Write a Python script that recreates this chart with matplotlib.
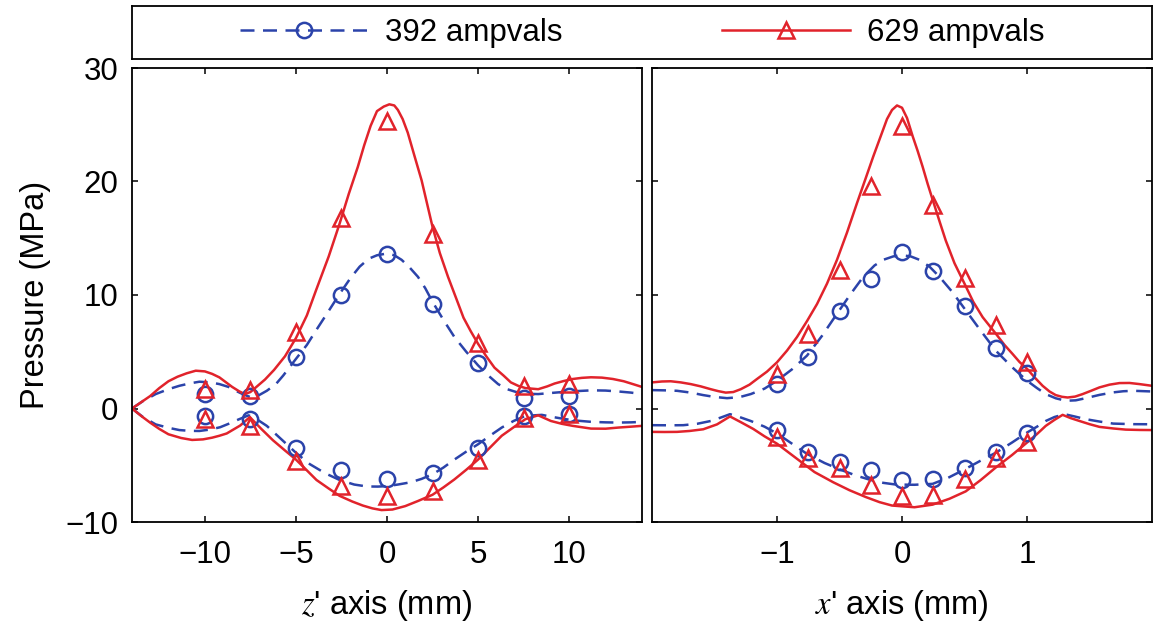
import matplotlib
matplotlib.use("Agg")
import matplotlib.pyplot as plt
from matplotlib.lines import Line2D

plt.rcParams["font.family"] = ["Liberation Sans", "DejaVu Sans"]
plt.rcParams["mathtext.fontset"] = "stix"

# ---- measured samples (z' scan) ----
z_pts = [-10, -7.5, -5, -2.5, 0, 2.5, 5, 7.5, 10]
z392_pos = [1.3, 1.1, 4.5, 10.0, 13.6, 9.2, 4.0, 0.9, 1.1]
z392_neg = [-0.7, -0.9, -3.5, -5.4, -6.25, -5.7, -3.45, -0.65, -0.5]
z629_pos = [1.7, 1.65, 6.7, 16.8, 25.3, 15.4, 5.75, 2.0, 2.2]
z629_neg = [-0.95, -1.5, -4.6, -6.8, -7.7, -7.3, -4.5, -0.85, -0.45]

# ---- simulated envelopes (z' scan) ----
z629_up_x = [-14, -13.5, -13, -12.5, -12, -11.5, -11, -10.5, -10, -9.6, -9.2, -8.5, -8.1,
             -7.8, -7.5, -7.2, -6.7, -6.2, -5.6, -5, -4.4, -3.9, -3.2, -2.6, -2.1, -1.6,
             -1.25, -0.9, -0.55, -0.18, 0.13, 0.4, 0.6, 0.86, 1.14, 1.5, 1.9, 2.5, 2.9,
             3.35, 3.8, 4.2, 4.6, 5, 5.45, 5.9, 6.4, 6.8, 7.2, 7.6, 8.3, 8.8, 9.2, 9.7,
             10.2, 10.7, 11.2, 11.8, 12.4, 13, 13.5, 14]
z629_up_y = [0, 0.55, 1.1, 1.8, 2.4, 2.8, 3.1, 3.33, 3.27, 3.05, 2.74, 1.9, 1.5,
             1.27, 1.45, 1.86, 2.55, 3.4, 4.6, 6.2, 8.2, 10.4, 13.4, 16.3, 18.9, 21.3,
             23.2, 24.9, 26.2, 26.6, 26.8, 26.7, 26.3, 25.5, 24.3, 22.3, 20.1, 16.0, 13.7,
             11.6, 9.7, 8.0, 6.8, 5.7, 4.6, 3.6, 2.9, 2.3, 2.0, 1.8, 1.7, 1.95, 2.2, 2.42,
             2.6, 2.7, 2.75, 2.72, 2.6, 2.4, 2.15, 1.9]
z629_lo_x = [-14, -13.5, -13, -12.5, -12, -11.3, -10.7, -10.1, -9.6, -9.2, -8.8, -8.06,
             -7.53, -6.9, -6.26, -5.6, -5.0, -4.4, -3.87, -3.2, -2.6, -1.9, -1.33, -0.8,
             -0.3, 0.3, 1.0, 1.7, 2.5, 3.1, 3.7, 4.35, 5.0, 5.65, 6.3, 7.0, 7.6, 8.3,
             9.0, 9.6, 10.2, 11.2, 12.0, 12.7, 13.4, 14]
z629_lo_y = [0, -0.65, -1.25, -1.8, -2.27, -2.6, -2.77, -2.72, -2.57, -2.4, -2.2, -1.5,
             -0.76, -1.8, -2.8, -3.7, -4.5, -5.45, -6.3, -7.05, -7.7, -8.2, -8.55, -8.8,
             -8.95, -8.9, -8.6, -8.15, -7.6, -6.95, -6.25, -5.4, -4.5, -3.45, -2.4, -1.6,
             -0.94, -0.6, -1.1, -1.35, -1.53, -1.77, -1.78, -1.68, -1.6, -1.53]
z392_up_x = [-14, -13.4, -12.7, -12, -11.4, -10.8, -10.3, -9.7, -9.2, -8.7, -8.3, -7.9,
             -7.45, -7.0, -6.6, -6.1, -5.7, -5.0, -4.4, -3.9, -3.2, -2.6, -2.0, -1.5,
             -1.0, -0.55, 0, 0.4, 0.8, 1.2, 1.7, 2.1, 2.5, 3.1, 3.7, 4.35, 5.0, 5.6, 6.1,
             6.6, 7.2, 7.7, 8.3, 9.1, 10.0, 11.25, 12.0, 12.7, 13.4, 14]
z392_up_y = [0, 0.65, 1.27, 1.7, 2.0, 2.22, 2.36, 2.3, 2.15, 1.9, 1.56, 1.25,
             0.97, 1.2, 1.56, 2.15, 2.9, 4.37, 5.6, 6.87, 8.6, 10.1, 11.5, 12.5,
             13.2, 13.5, 13.66, 13.5, 13.1, 12.5, 11.6, 10.6, 9.4, 7.8, 6.3, 5.0, 3.8, 2.85, 2.15,
             1.7, 1.4, 1.3, 1.27, 1.38, 1.5, 1.6, 1.58, 1.5, 1.4, 1.27]
z392_lo_x = [-14, -13.4, -12.7, -12, -11.4, -10.8, -10.3, -9.7, -9.16, -8.7, -8.2, -7.6,
             -7.1, -6.6, -5.7, -5.0, -4.24, -3.4, -2.6, -1.8, -1.1, -0.5, 0, 0.6, 1.3,
             1.9, 2.5, 3.1, 3.7, 4.35, 5.0, 5.65, 6.3, 6.95, 7.6, 8.5, 9.1, 9.8, 10.5,
             11.25, 12.0, 12.7, 13.4, 14]
z392_lo_y = [0, -0.75, -1.4, -1.7, -1.9, -1.97, -1.98, -1.85, -1.65, -1.35, -1.0, -0.6,
             -1.0, -1.53, -2.86, -3.9, -4.9, -5.7, -6.3, -6.7, -6.87, -6.88, -6.84, -6.7, -6.5,
             -6.2, -5.8, -5.2, -4.5, -3.8, -3.15, -2.4, -1.68, -1.1, -0.65, -0.56, -0.75, -0.94, -1.08,
             -1.18, -1.22, -1.24, -1.22, -1.18]

# ---- measured samples (x' scan) ----
x_pts = [-1, -0.75, -0.5, -0.25, 0, 0.25, 0.5, 0.75, 1]
x392_pos = [2.2, 4.5, 8.6, 11.4, 13.8, 12.1, 9.0, 5.3, 3.1]
x392_neg = [-1.9, -3.8, -4.7, -5.46, -6.34, -6.2, -5.28, -3.8, -2.18]
x629_pos = [3.0, 6.6, 12.2, 19.6, 24.9, 17.9, 11.5, 7.4, 4.1]
x629_neg = [-2.55, -4.34, -5.2, -6.7, -7.7, -7.64, -6.17, -4.4, -2.95]

# ---- simulated envelopes (x' scan) ----
x629_up_x = [-2, -1.92, -1.85, -1.77, -1.69, -1.61, -1.53, -1.47, -1.41, -1.35, -1.29,
             -1.22, -1.16, -1.08, -1.0, -0.92, -0.84, -0.76, -0.68, -0.6, -0.52, -0.44,
             -0.36, -0.29, -0.23, -0.17, -0.12, -0.08, -0.04, 0, 0.04, 0.085, 0.125,
             0.165, 0.205, 0.245, 0.3, 0.35, 0.42, 0.5, 0.57, 0.645, 0.75, 0.82, 0.885,
             0.94, 1.0, 1.06, 1.125, 1.18, 1.23, 1.28, 1.325, 1.385, 1.445, 1.51, 1.58,
             1.66, 1.74, 1.82, 1.9, 2.0]
x629_up_y = [2.3, 2.38, 2.4, 2.3, 2.15, 1.95, 1.7, 1.53, 1.4, 1.45, 1.7,
             2.1, 2.6, 3.25, 4.07, 5.1, 6.3, 7.7, 9.2, 11.0, 13.1, 15.5,
             18.1, 20.3, 22.2, 24.0, 25.5, 26.3, 26.7, 26.5, 25.6, 24.0, 22.7,
             21.3, 19.8, 18.4, 16.5, 14.8, 12.8, 11.0, 9.4, 8.05, 6.6, 5.6, 4.8,
             4.1, 3.5, 2.75, 2.0, 1.5, 1.18, 1.03, 0.97, 1.05, 1.27, 1.55, 1.86,
             2.1, 2.24, 2.25, 2.15, 2.0]
x629_lo_x = [-2, -1.9, -1.8, -1.7, -1.59, -1.48, -1.376, -1.29, -1.19, -1.1, -1.0, -0.91,
             -0.82, -0.7, -0.55, -0.42, -0.29, -0.18, -0.08, 0.1, 0.245, 0.38, 0.51, 0.63,
             0.75, 0.88, 1.0, 1.08, 1.15, 1.22, 1.285, 1.35, 1.42, 1.5, 1.58, 1.69,
             1.79, 1.9, 2.0]
x629_lo_y = [-2.06, -2.07, -2.06, -1.98, -1.83, -1.4, -0.7, -1.2, -1.8, -2.45, -3.1, -3.85,
             -4.6, -5.6, -6.5, -7.2, -7.8, -8.25, -8.55, -8.7, -8.47, -7.95, -7.3, -6.3,
             -5.2, -4.1, -3.0, -2.25, -1.53, -1.0, -0.56, -0.85, -1.1, -1.38, -1.62, -1.76,
             -1.86, -1.89, -1.9]
x392_up_x = [-2, -1.9, -1.8, -1.69, -1.59, -1.5, -1.4, -1.3, -1.21, -1.1, -1.0, -0.88,
             -0.76, -0.64, -0.52, -0.41, -0.31, -0.22, -0.15, -0.07, 0, 0.07, 0.14, 0.22,
             0.3, 0.4, 0.5, 0.62, 0.75, 0.88, 1.0, 1.08, 1.15, 1.23, 1.31, 1.39, 1.47,
             1.58, 1.69, 1.77, 1.85, 2.0]
x392_up_y = [1.62, 1.6, 1.56, 1.4, 1.18, 1.02, 0.91, 1.0, 1.27, 1.75, 2.45, 3.45,
             4.66, 6.4, 8.35, 10.1, 11.6, 12.6, 13.1, 13.4, 13.5, 13.4, 13.1, 12.5,
             11.6, 10.3, 8.8, 7.0, 5.1, 3.65, 2.45, 1.8, 1.27, 0.9, 0.68, 0.72, 0.91,
             1.2, 1.42, 1.52, 1.56, 1.5]
x392_lo_x = [-2, -1.85, -1.75, -1.64, -1.53, -1.45, -1.376, -1.3, -1.21, -1.1, -1.0, -0.88,
             -0.76, -0.62, -0.49, -0.37, -0.25, -0.15, -0.05, 0.1, 0.245, 0.37, 0.5, 0.62,
             0.75, 0.88, 1.0, 1.08, 1.15, 1.22, 1.3, 1.38, 1.47, 1.58, 1.69, 1.85, 2.0]
x392_lo_y = [-1.47, -1.48, -1.47, -1.35, -1.1, -0.8, -0.5, -0.75, -1.1, -1.6, -2.2, -3.1,
             -4.0, -4.8, -5.4, -5.9, -6.3, -6.55, -6.7, -6.72, -6.64, -6.1, -5.37, -4.65,
             -3.9, -3.0, -2.12, -1.6, -1.1, -0.75, -0.5, -0.7, -0.94, -1.15, -1.33, -1.38,
             -1.39]

series_labels = ["392 ampvals", "629 ampvals"]
y_ticks = [-10, 0, 10, 20, 30]
z_ticks = [-10, -5, 0, 5, 10]
x_ticks = [-1, 0, 1]

BLUE = "#2b43aa"
RED = "#e1232b"
FS = 22.5
LFS = 23.5
DASH = (5.6, 3.4)
LW = 1.8

W, H = 1155, 622
fig = plt.figure(figsize=(W / 100, H / 100), dpi=100)
fig.patch.set_facecolor("white")


def fax(l, t, r, b):
    return fig.add_axes([l / W, 1 - b / H, (r - l) / W, (b - t) / H])


ax1 = fax(132, 68, 642, 522)
ax2 = fax(652, 68, 1152, 522)

blue_mk = dict(ls="none", marker="o", ms=11, mfc="none", mec=BLUE, mew=1.8)
red_mk = dict(ls="none", marker="^", ms=12, mfc="none", mec=RED, mew=1.8)


def draw(ax, r_up, r_lo, b_up, b_lo, pts, b_pos, b_neg, r_pos, r_neg):
    for xs, ys in (b_up, b_lo):
        ax.plot(xs, ys, color=BLUE, dashes=DASH, lw=LW, solid_joinstyle="round",
                dash_joinstyle="round")
    for xs, ys in (r_up, r_lo):
        ax.plot(xs, ys, color=RED, lw=LW, solid_joinstyle="round")
    ax.plot(pts, b_pos, **blue_mk)
    ax.plot(pts, b_neg, **blue_mk)
    ax.plot(pts, r_pos, **red_mk)
    ax.plot(pts, r_neg, **red_mk)


draw(ax1, (z629_up_x, z629_up_y), (z629_lo_x, z629_lo_y),
     (z392_up_x, z392_up_y), (z392_lo_x, z392_lo_y),
     z_pts, z392_pos, z392_neg, z629_pos, z629_neg)
draw(ax2, (x629_up_x, x629_up_y), (x629_lo_x, x629_lo_y),
     (x392_up_x, x392_up_y), (x392_lo_x, x392_lo_y),
     x_pts, x392_pos, x392_neg, x629_pos, x629_neg)

ax1.set_xlim(-14, 14)
ax2.set_xlim(-2, 2)
ax1.set_xticks(z_ticks)
ax2.set_xticks(x_ticks)
for ax in (ax1, ax2):
    ax.set_ylim(-10, 30)
    ax.set_yticks(y_ticks)
    ax.tick_params(direction="in", length=4.5, width=1.1, top=True, right=True,
                   labelsize=FS, pad=10)
    ax.tick_params(axis="x", pad=13)
    for s in ax.spines.values():
        s.set_linewidth(1.3)
ax2.tick_params(labelleft=False)

ax1.set_ylabel("Pressure (MPa)", fontsize=LFS, labelpad=10)
ax1.set_xlabel(r"$z$' axis (mm)", fontsize=LFS, labelpad=13)
ax2.set_xlabel(r"$x$' axis (mm)", fontsize=LFS, labelpad=13)

# legend strip across the top
lax = fax(132, 6, 1152, 59)
lax.set_xticks([])
lax.set_yticks([])
for s in lax.spines.values():
    s.set_linewidth(1.3)
handles = [
    Line2D([], [], color=BLUE, dashes=DASH, lw=LW, marker="o", ms=11, mfc="none",
           mec=BLUE, mew=1.8),
    Line2D([], [], color=RED, lw=LW, marker="^", ms=12, mfc="none", mec=RED, mew=1.8),
]
lax.legend(handles, series_labels, loc="center", ncol=2, frameon=False, fontsize=FS,
           handlelength=4.1, handletextpad=0.55, columnspacing=5.1, numpoints=1,
           borderaxespad=0, borderpad=0)

fig.savefig("out.png", dpi=100, facecolor="white")
